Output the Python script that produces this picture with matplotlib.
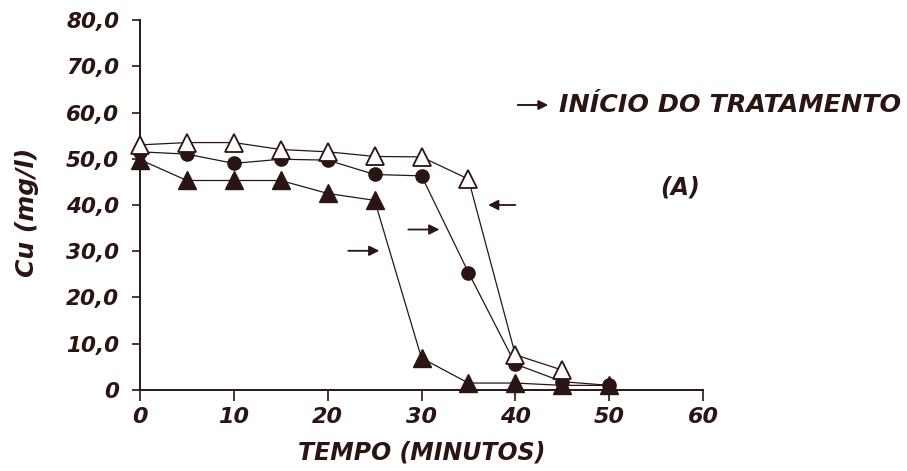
import matplotlib.pyplot as plt

plt.rcParams['font.family'] = ['DejaVu Sans']

# data
tempo = [0, 5, 10, 15, 20, 25, 30, 35, 40, 45, 50]
tempo_aberto = [0, 5, 10, 15, 20, 25, 30, 35, 40, 45]
cu_aberto = [53.0, 53.5, 53.5, 52.0, 51.5, 50.5, 50.4, 45.6, 7.6, 4.3]
cu_circulo = [51.5, 51.0, 49.0, 49.9, 49.7, 46.6, 46.3, 25.4, 5.6, 1.8, 1.0]
cu_cheio = [49.8, 45.3, 45.3, 45.3, 42.5, 41.0, 6.9, 1.5, 1.5, 1.0, 1.0]

# arrows "inicio do tratamento": (x_start, x_end, y)
setas = [(21.9, 25.8, 30.1), (28.3, 32.2, 34.7), (40.3, 36.8, 40.0)]

yticks = [0, 10, 20, 30, 40, 50, 60, 70, 80]
ytick_labels = ['0', '10,0', '20,0', '30,0', '40,0', '50,0', '60,0', '70,0', '80,0']
xticks = [0, 10, 20, 30, 40, 50, 60]

cor = '#2a1512'

fig = plt.figure(figsize=(9.07, 4.71), dpi=100)
ax = fig.add_axes([0.1544, 0.172, 0.6207, 0.7855])

ax.plot(tempo, cu_cheio, color=cor, lw=0.9, marker='^', ms=13.5,
        mfc=cor, mec=cor, clip_on=False, zorder=3)
ax.plot(tempo, cu_circulo, color=cor, lw=0.9, marker='o', ms=9.5,
        mfc=cor, mec=cor, clip_on=False, zorder=4)
ax.plot(tempo_aberto, cu_aberto, color=cor, lw=0.9, marker='^', ms=13.5,
        mfc='white', mec=cor, mew=1.3, clip_on=False, zorder=5)

for x0, x1, y in setas:
    ax.annotate('', xy=(x1, y), xytext=(x0, y),
                arrowprops=dict(arrowstyle='-|>', color=cor, lw=1.3,
                                mutation_scale=15))

ax.set_xlim(0, 60)
ax.set_ylim(0, 80)
ax.set_xticks(xticks)
ax.set_xticklabels([str(v) for v in xticks])
ax.set_yticks(yticks)
ax.set_yticklabels(ytick_labels)

for s in ['top', 'right']:
    ax.spines[s].set_visible(False)
for s in ['left', 'bottom']:
    ax.spines[s].set_linewidth(1.4)
    ax.spines[s].set_color(cor)

ax.tick_params(axis='both', direction='out', width=1.2, color=cor,
               labelcolor=cor)
ax.tick_params(axis='y', length=6, pad=9)
ax.tick_params(axis='x', length=8, pad=4)
for lab in ax.get_yticklabels():
    lab.set_fontsize(15.5)
    lab.set_fontweight('bold')
    lab.set_fontstyle('italic')
for lab in ax.get_xticklabels():
    lab.set_fontsize(16)
    lab.set_fontweight('bold')
    lab.set_fontstyle('italic')

ax.set_xlabel('TEMPO (MINUTOS)', fontsize=17, fontweight='bold',
              fontstyle='italic', color=cor)
ax.xaxis.set_label_coords(0.5, -(453 - 390) / 370)
ax.xaxis.label.set_va('center')
ax.set_ylabel('Cu (mg/l)', fontsize=18, fontweight='bold',
              fontstyle='italic', color=cor)
ax.yaxis.set_label_coords(-(140 - 27) / 563, (390 - 212) / 370)
ax.yaxis.label.set_va('center')

# legend note
ax.annotate('', xy=(551 / 907, 1 - 105 / 471), xytext=(515 / 907, 1 - 105 / 471),
            xycoords='figure fraction', textcoords='figure fraction',
            arrowprops=dict(arrowstyle='-|>', color=cor, lw=1.4,
                            mutation_scale=14))
fig.text(559 / 907, 1 - 105 / 471, 'INÍCIO DO TRATAMENTO', fontsize=18.3,
         fontweight='bold', fontstyle='italic', color=cor, va='center',
         ha='left')
fig.text(680 / 907, 1 - 188 / 471, '(A)', fontsize=17, fontweight='bold',
         fontstyle='italic', color=cor, va='center', ha='center')

fig.savefig('out.png', dpi=100)
